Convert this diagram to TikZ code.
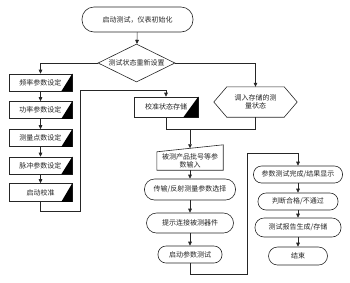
\documentclass[tikz,border=0pt]{standalone}
\usepackage{fontspec}
\setmainfont{Noto Sans CJK SC}
\usetikzlibrary{shapes.geometric,arrows.meta,calc}
\begin{document}
\begin{tikzpicture}[x=1pt,y=-1pt,
  every node/.style={font=\fontsize{7}{8.5}\selectfont, text=black!85, align=center, inner sep=0pt},
  ln/.style={draw=black!85, line width=0.6pt},
  arr/.style={ln, -{Triangle[length=4pt,width=3.6pt]}},
  rbox/.style={ln, rectangle, rounded corners=8pt, fill=white},
  pbox/.style={ln, rectangle, fill=white},
  tri/.style={fill=black}
]
\useasboundingbox (0,0) rectangle (350,282);
% top
\node[rbox, rounded corners=12pt, minimum width=111pt, minimum height=25pt] (st) at (137.5,19.5) {启动测试，仪表初始化};
\node[ln, diamond, aspect=2, minimum width=77pt, minimum height=38pt, fill=white] (dm) at (136.5,63) {测试状态重新设置};
% left column
\node[pbox, minimum width=63pt, minimum height=17pt] (b1) at (40.5,82.5) {频率参数设定};
\node[pbox, minimum width=63pt, minimum height=17pt] (b2) at (40.5,110) {功率参数设定};
\node[pbox, minimum width=63pt, minimum height=17pt] (b3) at (40.5,138) {测量点数设定};
\node[pbox, minimum width=63pt, minimum height=17pt] (b4) at (40.5,165.5) {脉冲参数设定};
\node[pbox, minimum width=63pt, minimum height=18pt] (b5) at (40.5,192.5) {启动校准};
\foreach \b in {b1,b2,b3,b4,b5}{
  \fill[tri] ($(\b.south east)+(-11,0)$) -- (\b.north east) -- (\b.south east) -- cycle;
}
% calibration store
\node[pbox, minimum width=64pt, minimum height=20pt] (cal) at (166,107) {校准状态存储};
\fill[tri] ($(cal.south east)+(-15,0)$) -- (cal.north east) -- (cal.south east) -- cycle;
% hexagon
\node[minimum width=83pt, minimum height=30pt] (hex) at (255.5,102) {调入存储的测\\量状态};
\draw[ln] (hex.west) -- ($(hex.north west)+(13,0)$) -- ($(hex.north east)+(-13,0)$) -- (hex.east)
  -- ($(hex.south east)+(-13,0)$) -- ($(hex.south west)+(13,0)$) -- cycle;
% manual input
\node[minimum width=66pt, minimum height=18pt] (man) at (190,161) {被测产品批号等参\\数输入};
\draw[ln] (man.south west) -- (man.north west) -- ($(man.north east)+(0,-7)$) -- (man.south east) -- cycle;
\coordinate (mantop) at ($(man.north)+(0,-3.5)$);
% center column
\node[rbox, rounded corners=10pt, minimum width=91pt, minimum height=21pt] (t1) at (190,189.5) {传输/反射测量参数选择};
\node[rbox, rounded corners=10pt, minimum width=87pt, minimum height=20pt] (t2) at (190,223) {提示连接被测器件};
\node[rbox, minimum width=64pt, minimum height=17pt] (t3) at (190,254.5) {启动参数测试};
% right column
\node[rbox, minimum width=89pt, minimum height=17pt] (r1) at (298,174.5) {参数测试完成/结果显示};
\node[rbox, minimum width=80pt, minimum height=17pt] (r2) at (298,201.5) {判断合格/不通过};
\node[rbox, rounded corners=9pt, minimum width=86pt, minimum height=19pt] (r3) at (298,227.5) {测试报告生成/存储};
\node[rbox, rounded corners=9pt, minimum width=59pt, minimum height=18pt] (r4) at (298,256) {结束};
% coordinates
\coordinate (l1) at (80,211);
\coordinate (l2) at (80,90);
\coordinate (mg) at (190,129);
\coordinate (c1) at (247,274);
\coordinate (c2) at (247,153);
% connectors
\draw[arr] (st) -- (dm);
\draw[arr] (dm.west) -| (b1.north);
\draw[arr] (b1) -- (b2);
\draw[arr] (b2) -- (b3);
\draw[arr] (b3) -- (b4);
\draw[arr] (b4) -- (b5);
\draw[arr] (b5.south) |- (l1) -- (l2) -| (cal.north);
\draw[arr] (dm.east) -| (hex.north);
\draw[ln] (cal.south) |- (mg);
\draw[ln] (hex.south) |- (mg);
\draw[arr] (mg) -- (mantop);
\draw[arr] (man.south) -- (t1.north);
\draw[arr] (t1) -- (t2);
\draw[arr] (t2) -- (t3);
\draw[arr] (t3.south) |- (c1) -- (c2) -| (r1.north);
\draw[arr] (r1) -- (r2);
\draw[arr] (r2) -- (r3);
\draw[arr] (r3) -- (r4);
\end{tikzpicture}
\end{document}
